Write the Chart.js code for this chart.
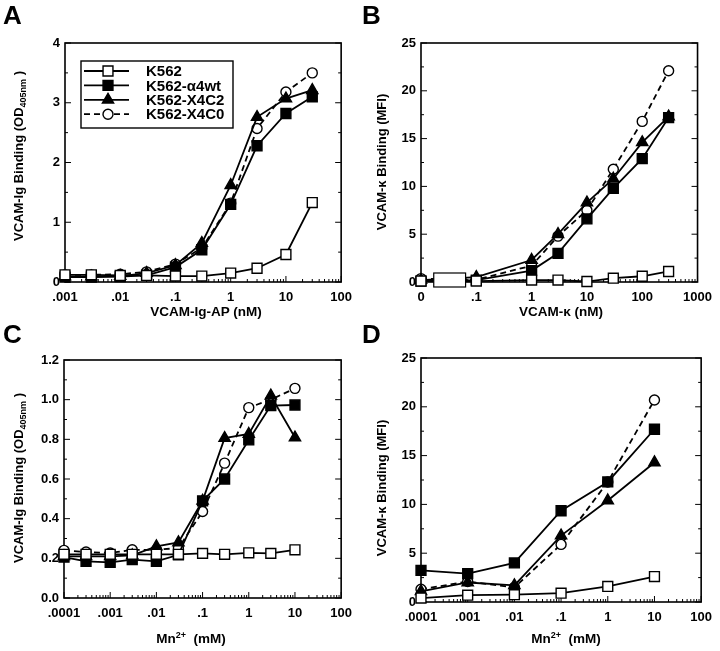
<!DOCTYPE html>
<html>
<head>
<meta charset="utf-8">
<script src="https://cdn.jsdelivr.net/npm/chart.js@4.4.1/dist/chart.umd.min.js"></script>
<style>
  body { margin: 0; background: #fff; }
  #fig { position: relative; width: 720px; height: 651px; overflow: hidden;
         font-family: "Liberation Sans", Arial, sans-serif; font-weight: bold; color: #000; }
  #fig canvas { position: absolute; }
  .tag { position: absolute; font-size: 26px; line-height: 1; }
  .xt { position: absolute; font-size: 13.5px; line-height: 1; white-space: nowrap; transform: translate(-50%, -50%); }
  .yt { position: absolute; font-size: 13px; line-height: 1; white-space: nowrap;
        transform: translate(-50%, -50%) rotate(-90deg); }
  sub, sup { font-size: 9px; }
</style>
</head>
<body>
<div id="fig">
  <canvas id="chartA" style="left:0;top:0" width="360" height="310"></canvas>
  <canvas id="chartB" style="left:360px;top:0" width="360" height="310"></canvas>
  <canvas id="chartC" style="left:0;top:320px" width="360" height="310"></canvas>
  <canvas id="chartD" style="left:360px;top:320px" width="360" height="310"></canvas>

  <div class="tag" style="left:3px;top:2px">A</div>
  <div class="tag" style="left:362px;top:2px">B</div>
  <div class="tag" style="left:3px;top:321px">C</div>
  <div class="tag" style="left:362px;top:321px">D</div>

  <div class="yt" style="left:20px;top:156px">VCAM-Ig Binding (OD<sub>405nm</sub> )</div>
  <div class="yt" style="left:381px;top:162px">VCAM-κ Binding (MFI)</div>
  <div class="yt" style="left:20px;top:478px">VCAM-Ig Binding (OD<sub>405nm</sub> )</div>
  <div class="yt" style="left:381px;top:488px">VCAM-κ Binding (MFI)</div>

  <div class="xt" style="left:206px;top:312px">VCAM-Ig-AP (nM)</div>
  <div class="xt" style="left:561px;top:312px">VCAM-κ (nM)</div>
  <div class="xt" style="left:191px;top:638px">Mn<sup>2+</sup>&nbsp; (mM)</div>
  <div class="xt" style="left:566px;top:638px">Mn<sup>2+</sup>&nbsp; (mM)</div>
</div>

<script>
const seriesNames = ['K562', 'K562-α4wt', 'K562-X4C2', 'K562-X4C0'];

// A: VCAM-Ig-AP titration (OD 405nm)
const aDoses = [0.001, 0.003, 0.01, 0.03, 0.1, 0.3, 1, 3, 10, 30];
const aK562 = [0.12, 0.12, 0.11, 0.11, 0.1, 0.1, 0.15, 0.23, 0.46, 1.33];
const aA4wt = [0.08, 0.08, 0.09, 0.11, 0.25, 0.54, 1.3, 2.28, 2.82, 3.1];
const aX4C2 = [0.09, 0.09, 0.1, 0.15, 0.28, 0.65, 1.62, 2.76, 3.07, 3.21];
const aX4C0 = [0.12, 0.12, 0.13, 0.17, 0.3, 0.57, 1.32, 2.57, 3.18, 3.5];
const aXTicks = [0.001, 0.01, 0.1, 1, 10, 100];
const aXLabels = ['.001', '.01', '.1', '1', '10', '100'];
const aYTicks = [0, 1, 2, 3, 4];
const aYLabels = ['0', '1', '2', '3', '4'];

// B: VCAM-kappa titration (MFI); the 0 dose sits at the left end of the log axis
const bDoses = [0, 0.1, 1, 3, 10, 30, 100, 300];
const bK562 = [0.1, 0.1, 0.2, 0.2, 0.05, 0.4, 0.6, 1.1];
const bA4wt = [0.1, 0.2, 1.2, 3.0, 6.6, 9.8, 12.9, 17.2];
const bX4C2 = [0.2, 0.5, 2.3, 5.0, 8.3, 10.8, 14.6, 17.3];
const bX4C0 = [0.35, 0.25, 1.7, 4.8, 7.5, 11.8, 16.8, 22.1];
const bZeroAt = 0.01;
const bXTicks = [0.01, 0.1, 1, 10, 100, 1000];
const bXLabels = ['0', '.1', '1', '10', '100', '1000'];
const bYTicks = [0, 5, 10, 15, 20, 25];
const bYLabels = ['0', '5', '10', '15', '20', '25'];

// C: Mn2+ titration, VCAM-Ig binding
const cDoses = [0.0001, 0.0003, 0.001, 0.003, 0.01, 0.03, 0.1, 0.3, 1, 3, 10];
const cK562 = [0.22, 0.22, 0.22, 0.22, 0.22, 0.22, 0.225, 0.22, 0.228, 0.225, 0.243];
const cA4wt = [0.206, 0.185, 0.18, 0.193, 0.185, 0.218, 0.49, 0.6, 0.797, 0.97, 0.973];
const cX4C2 = [0.21, 0.21, 0.21, 0.215, 0.26, 0.28, 0.49, 0.806, 0.827, 1.02, 0.809];
const cX4C0 = [0.24, 0.232, 0.227, 0.243, 0.243, 0.252, 0.436, 0.68, 0.96, 1.0, 1.057];
const cXTicks = [0.0001, 0.001, 0.01, 0.1, 1, 10, 100];
const cXLabels = ['.0001', '.001', '.01', '.1', '1', '10', '100'];
const cYTicks = [0, 0.2, 0.4, 0.6, 0.8, 1.0, 1.2];
const cYLabels = ['0.0', '0.2', '0.4', '0.6', '0.8', '1.0', '1.2'];

// D: Mn2+ titration, VCAM-kappa binding
const dDoses = [0.0001, 0.001, 0.01, 0.1, 1, 10];
const dK562 = [0.4, 0.7, 0.75, 0.9, 1.6, 2.6];
const dA4wt = [3.25, 2.9, 4.0, 9.35, 12.3, 17.7];
const dX4C2 = [1.1, 2.0, 1.7, 6.8, 10.4, 14.3];
const dX4C0 = [1.3, 2.1, 1.5, 5.9, 12.3, 20.7];
const dXTicks = cXTicks;
const dXLabels = cXLabels;
const dYTicks = bYTicks;
const dYLabels = bYLabels;

const FONT = '"Liberation Sans", Arial, sans-serif';
Chart.defaults.font.family = FONT;
Chart.defaults.color = '#000';

// marker / line look of each series, same order as seriesNames
const looks = [
  { pointStyle: 'rect', radius: 7, fill: '#fff', dash: [] },
  { pointStyle: 'rect', radius: 7, fill: '#000', dash: [] },
  { pointStyle: 'triangle', radius: 6.5, fill: '#000', dash: [] },
  { pointStyle: 'circle', radius: 5, fill: '#fff', dash: [6, 4] }
];

function makeDatasets(doses, series) {
  return series.map((vals, i) => ({
    label: seriesNames[i],
    data: doses.map((d, j) => ({ x: d === 0 ? bZeroAt : d, y: vals[j] })),
    borderColor: '#000',
    borderWidth: 1.8,
    borderDash: looks[i].dash,
    backgroundColor: looks[i].fill,
    pointStyle: looks[i].pointStyle,
    pointRadius: looks[i].radius,
    pointHoverRadius: looks[i].radius,
    pointBorderWidth: 1.4,
    pointBorderColor: '#000',
    pointBackgroundColor: looks[i].fill,
    tension: 0,
    clip: false
  }));
}

// box around the plot, log ticks on the bottom and half-step ticks on the y sides, all pointing in
const framePlugin = {
  id: 'frame',
  beforeDatasetsDraw(chart) {
    const { ctx, chartArea: a, scales: { x, y } } = chart;
    ctx.save();
    ctx.strokeStyle = '#000';
    ctx.lineWidth = 1.6;
    ctx.strokeRect(a.left, a.top, a.right - a.left, a.bottom - a.top);
    ctx.lineWidth = 1;
    ctx.beginPath();
    const lo = Math.round(Math.log10(x.min)), hi = Math.round(Math.log10(x.max));
    for (let e = lo; e <= hi; e++) {
      for (let k = 1; k <= 9; k++) {
        const v = k * Math.pow(10, e);
        if (v > x.max * 1.0001) break;
        const px = x.getPixelForValue(v);
        const len = k === 1 ? 6 : 3;
        ctx.moveTo(px, a.bottom);
        ctx.lineTo(px, a.bottom - len);
      }
    }
    const yt = chart.options.scales.y.majors;
    const half = (yt[1] - yt[0]) / 2;
    for (let i = 0; yt[0] + i * half <= yt[yt.length - 1] + 1e-9; i++) {
      const py = y.getPixelForValue(yt[0] + i * half);
      const len = i % 2 ? 3 : 6;
      ctx.moveTo(a.left, py); ctx.lineTo(a.left + len, py);
      ctx.moveTo(a.right, py); ctx.lineTo(a.right - len, py);
    }
    ctx.stroke();
    ctx.restore();
  }
};

// white break box on the B axis between 0 and .1
const breakPlugin = {
  id: 'axisBreak',
  afterDatasetsDraw(chart) {
    const { ctx, chartArea: a, scales: { x } } = chart;
    const x0 = x.getPixelForValue(0.017), x1 = x.getPixelForValue(0.064);
    ctx.save();
    ctx.fillStyle = '#fff';
    ctx.strokeStyle = '#000';
    ctx.lineWidth = 1.2;
    ctx.fillRect(x0, a.bottom - 9, x1 - x0, 14);
    ctx.strokeRect(x0, a.bottom - 9, x1 - x0, 14);
    ctx.restore();
  }
};

function drawMarker(ctx, look, x, y) {
  ctx.fillStyle = look.fill;
  ctx.strokeStyle = '#000';
  ctx.lineWidth = 1.4;
  if (Chart.helpers && Chart.helpers.drawPoint) {
    Chart.helpers.drawPoint(ctx, { pointStyle: look.pointStyle, radius: look.radius, rotation: 0, borderWidth: 1.4 }, x, y);
    return;
  }
  ctx.beginPath();
  ctx.arc(x, y, look.radius, 0, Math.PI * 2);
  ctx.fill();
  ctx.stroke();
}

// framed legend inside panel A, line sample with marker then the name
const boxLegend = {
  id: 'boxLegend',
  afterDraw(chart) {
    const { ctx, chartArea: a } = chart;
    const left = a.left + 16, top = a.top + 18;
    const w = 152, h = 67;
    ctx.save();
    ctx.fillStyle = '#fff';
    ctx.fillRect(left, top, w, h);
    ctx.strokeStyle = '#000';
    ctx.lineWidth = 1.4;
    ctx.strokeRect(left, top, w, h);
    chart.data.datasets.forEach((ds, i) => {
      const cy = top + 10 + i * 14.4;
      ctx.strokeStyle = '#000';
      ctx.lineWidth = 1.8;
      ctx.setLineDash(looks[i].dash);
      ctx.beginPath();
      ctx.moveTo(left + 3, cy);
      ctx.lineTo(left + 48, cy);
      ctx.stroke();
      ctx.setLineDash([]);
      drawMarker(ctx, looks[i], left + 27, cy);
      ctx.fillStyle = '#000';
      ctx.font = 'bold 15px ' + FONT;
      ctx.textBaseline = 'middle';
      ctx.textAlign = 'left';
      ctx.fillText(ds.label, left + 65, cy + 1);
    });
    ctx.restore();
  }
};

function makeChart(id, opts) {
  const tickFont = { family: FONT, size: 13, weight: 'bold' };
  return new Chart(document.getElementById(id), {
    type: 'line',
    data: { datasets: makeDatasets(opts.doses, opts.series) },
    plugins: [framePlugin].concat(opts.plugins || []),
    options: {
      responsive: false,
      animation: false,
      events: [],
      layout: { padding: { top: opts.top, right: opts.right, left: 0, bottom: 0 } },
      plugins: { legend: { display: false }, tooltip: { enabled: false } },
      scales: {
        x: {
          type: 'logarithmic',
          min: opts.xTicks[0],
          max: opts.xTicks[opts.xTicks.length - 1],
          afterBuildTicks: s => { s.ticks = opts.xTicks.map(v => ({ value: v })); },
          afterFit: s => { s.height = opts.xH; },
          grid: { display: false, drawTicks: false },
          border: { display: false },
          ticks: { autoSkip: false, maxRotation: 0, padding: 8, font: tickFont,
                   callback: (v, i) => opts.xLabels[i] }
        },
        y: {
          majors: opts.yTicks,
          min: opts.yTicks[0],
          max: opts.yTicks[opts.yTicks.length - 1],
          afterBuildTicks: s => { s.ticks = opts.yTicks.map(v => ({ value: v })); },
          afterFit: s => { s.width = opts.yW; },
          grid: { display: false, drawTicks: false },
          border: { display: false },
          ticks: { autoSkip: false, padding: 5, font: tickFont,
                   callback: (v, i) => opts.yLabels[i] }
        }
      }
    }
  });
}

makeChart('chartA', {
  doses: aDoses, series: [aK562, aA4wt, aX4C2, aX4C0],
  xTicks: aXTicks, xLabels: aXLabels, yTicks: aYTicks, yLabels: aYLabels,
  top: 43, right: 15, xH: 28, yW: 65, plugins: [boxLegend]
});
makeChart('chartB', {
  doses: bDoses, series: [bK562, bA4wt, bX4C2, bX4C0],
  xTicks: bXTicks, xLabels: bXLabels, yTicks: bYTicks, yLabels: bYLabels,
  top: 43, right: 17, xH: 28, yW: 61, plugins: [breakPlugin]
});
makeChart('chartC', {
  doses: cDoses, series: [cK562, cA4wt, cX4C2, cX4C0],
  xTicks: cXTicks, xLabels: cXLabels, yTicks: cYTicks, yLabels: cYLabels,
  top: 40, right: 15, xH: 32, yW: 64
});
makeChart('chartD', {
  doses: dDoses, series: [dK562, dA4wt, dX4C2, dX4C0],
  xTicks: dXTicks, xLabels: dXLabels, yTicks: dYTicks, yLabels: dYLabels,
  top: 38, right: 17, xH: 28, yW: 61
});
</script>
</body>
</html>
